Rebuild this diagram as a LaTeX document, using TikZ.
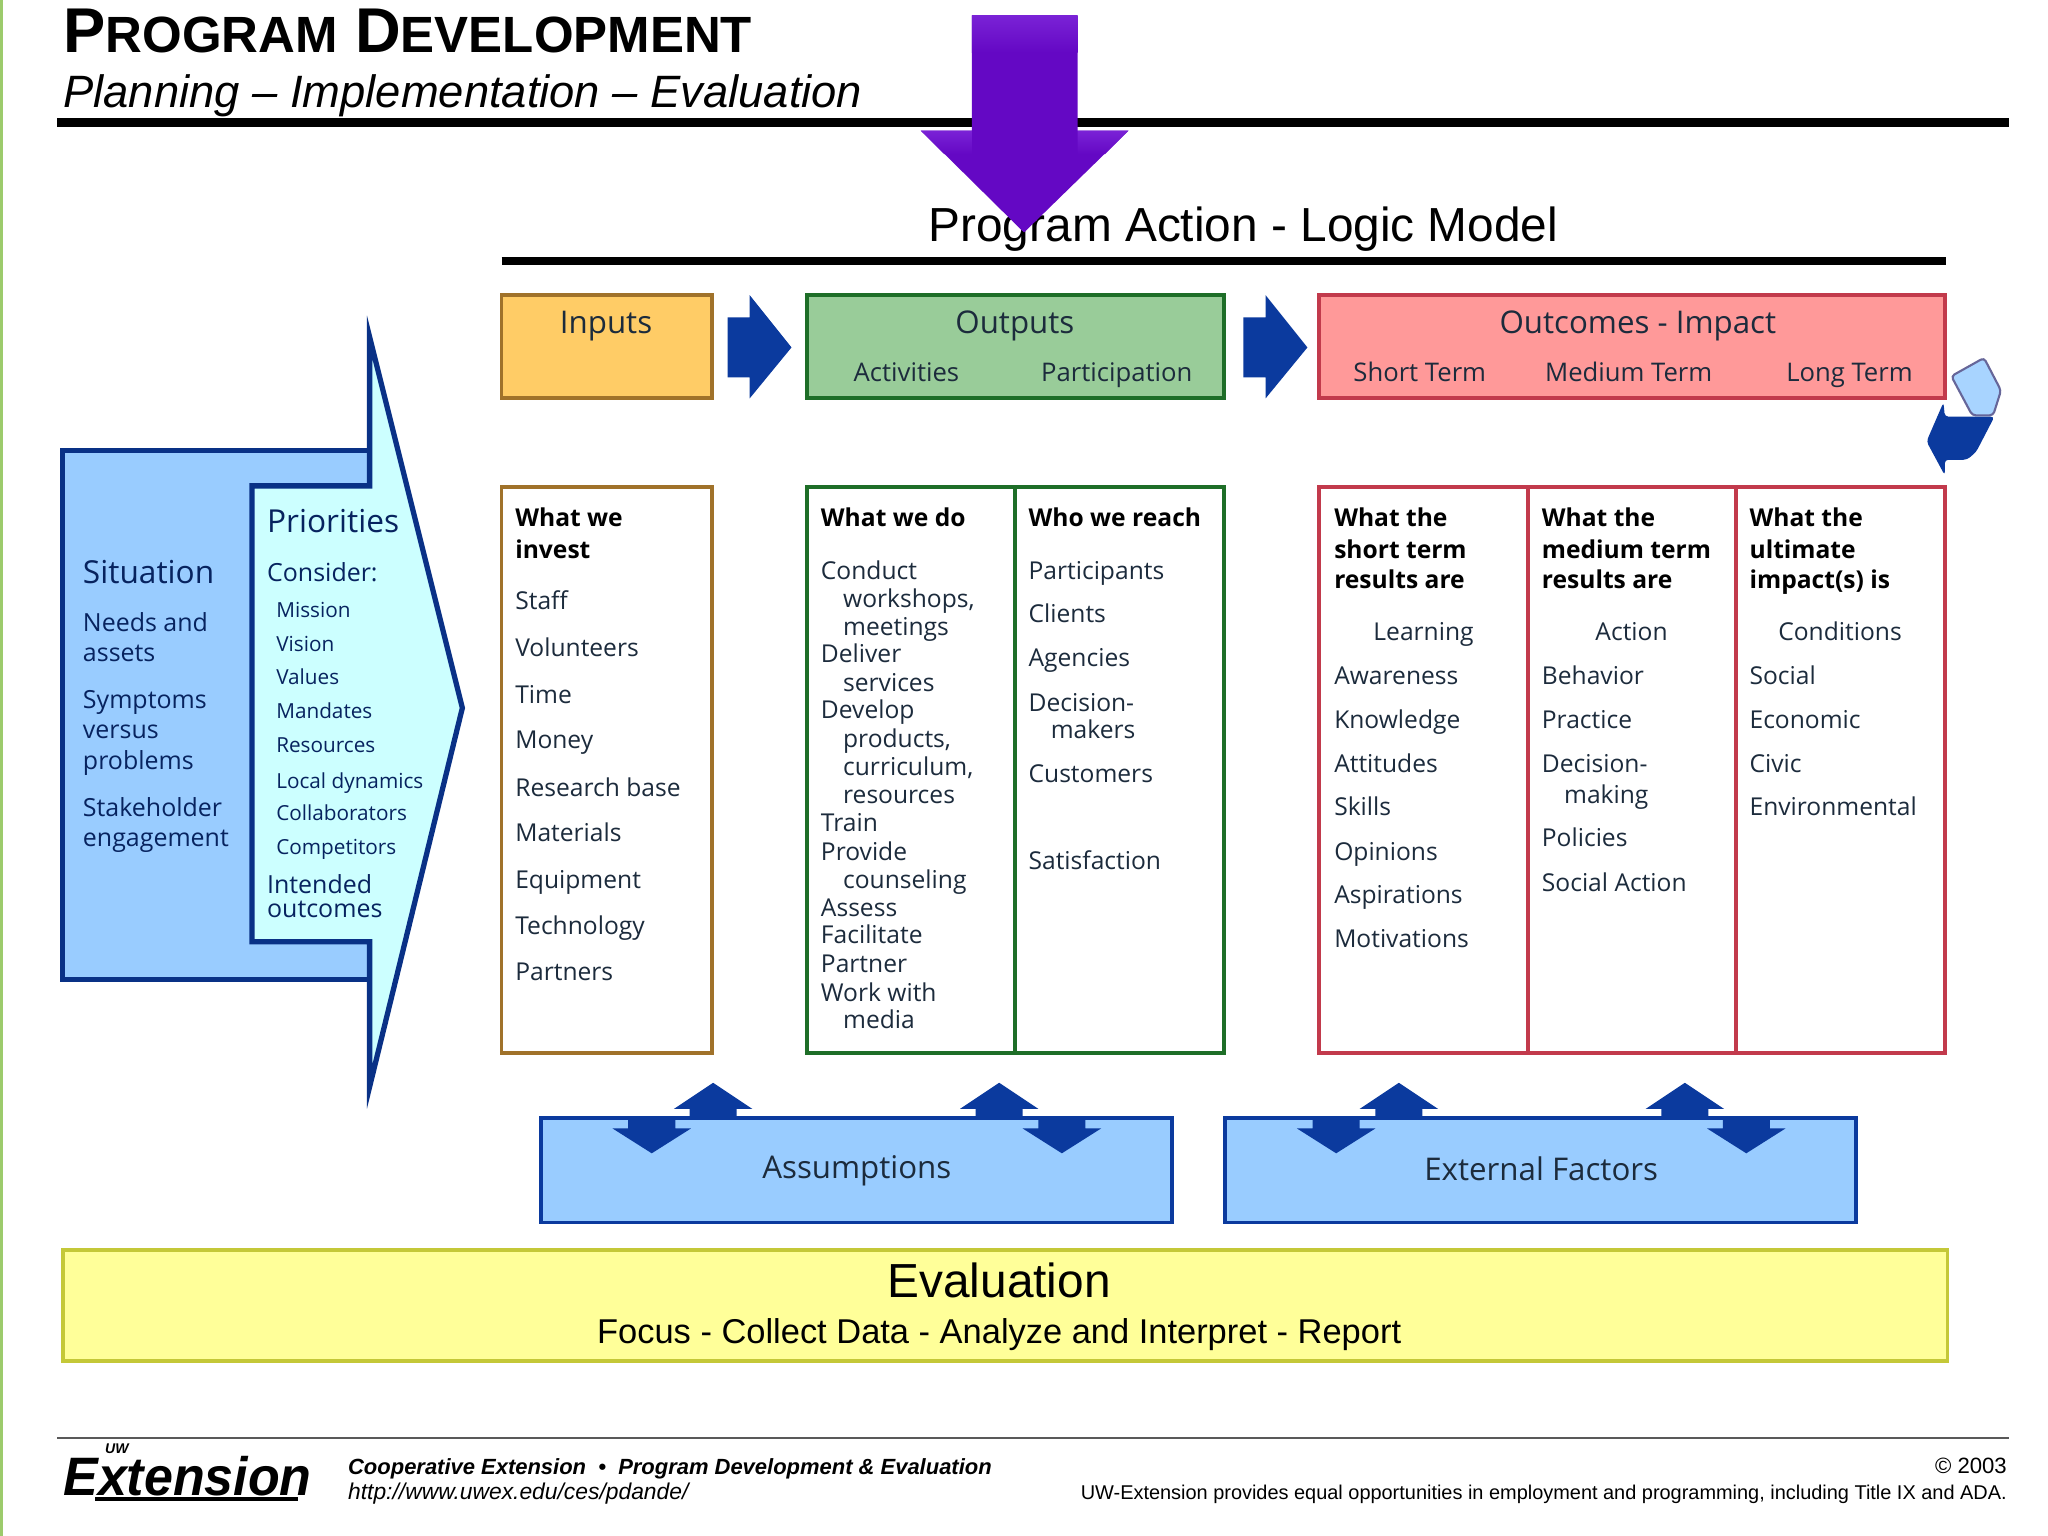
\documentclass[tikz,border=0pt]{standalone}
\usepackage{fontspec}
\setmainfont{Liberation Sans}
\newfontfamily\boxfont{Open Sans}
\usepackage{xcolor}
\usetikzlibrary{arrows.meta, positioning}

\definecolor{navyblue}{HTML}{0B3A9E}
\definecolor{boxblue}{HTML}{99CCFF}
\definecolor{paleblue}{HTML}{CCFFFF}
\definecolor{inputfill}{HTML}{FFCC66}
\definecolor{inputline}{HTML}{A0722A}
\definecolor{outputfill}{HTML}{99CC99}
\definecolor{outputline}{HTML}{1E6E28}
\definecolor{outcomefill}{HTML}{FF9999}
\definecolor{outcomeline}{HTML}{C23A4C}
\definecolor{evalfill}{HTML}{FFFF99}
\definecolor{evalline}{HTML}{C4C838}
\definecolor{inktext}{HTML}{1C2B3C}
\definecolor{violettop}{HTML}{7A22D6}
\definecolor{violetlow}{HTML}{6408C4}
\definecolor{stripgreen}{HTML}{9CCB6C}

\tikzset{
    headtext/.style={inner sep=0pt, font=\boxfont\fontsize{8.9}{11}\selectfont, text=inktext, text height=1.5ex, text depth=.3ex},
    subtext/.style={inner sep=0pt, yshift=0.3pt, font=\boxfont\fontsize{7.3}{9}\selectfont, text=inktext, text height=1.5ex, text depth=.3ex},
    item/.style={anchor=west, inner sep=0pt, yshift=0.4pt, font=\boxfont\fontsize{7}{9}\selectfont, text=inktext, text height=1.5ex, text depth=.3ex},
    boldrow/.style={item, font=\boxfont\bfseries\fontsize{7}{9}\selectfont, text=black},
    tinyrow/.style={item, font=\boxfont\fontsize{5.9}{7}\selectfont, text=navyblue!60!black},
    bluerow/.style={item, font=\boxfont\fontsize{7.1}{9}\selectfont, text=navyblue!60!black},
    blockarrow/.style={fill=navyblue},
}

\begin{document}
\begin{tikzpicture}[x=0.013061cm, y=-0.013061cm]
    \useasboundingbox (0,0) rectangle (1568,1176);
    \fill[white] (0,0) rectangle (1568,1176);
    \fill[stripgreen] (0,0) rectangle (2.5,1176);

    % ==========================================
    % Title
    % ==========================================
    \node[anchor=base west, inner sep=0pt, font=\bfseries\fontsize{18}{20}\selectfont] (title) at (48,40)
        {P{\fontsize{14.5}{16}\selectfont ROGRAM} D{\fontsize{14.5}{16}\selectfont EVELOPMENT}};
    \node[anchor=base west, inner sep=0pt, font=\itshape\fontsize{12.9}{16}\selectfont] (subtitle) at (48,82)
        {Planning -- Implementation -- Evaluation};
    \draw[line width=2.5pt] (44,93.5) -- (1538,93.5);

    \node[anchor=base, inner sep=0pt, font=\fontsize{13.6}{16}\selectfont] (model) at (952,185) {Program Action - Logic Model};
    \draw[line width=2.2pt] (384,200) -- (1490,200);

    % ==========================================
    % Arrow over the heading
    % ==========================================
    \fill[violetlow] (744,12) -- (825,12) -- (825,100) -- (864,100) -- (784,178) -- (705,100) -- (744,100) -- cycle;
    \shade[top color=violettop, bottom color=violetlow] (744,12) rectangle (825,40);
    \shade[top color=violettop, bottom color=violetlow] (705,100) -- (744,100) -- (744,118) -- (723,118) -- cycle;
    \shade[top color=violettop, bottom color=violetlow] (825,100) -- (864,100) -- (846,118) -- (825,118) -- cycle;

    % ==========================================
    % Top row
    % ==========================================
    \draw[fill=inputfill, draw=inputline, line width=1.1pt] (384,226) rectangle (545,305);
    \node[headtext] (inputs) at (464,247) {Inputs};

    \draw[fill=outputfill, draw=outputline, line width=1.1pt] (618,226) rectangle (937,305);
    \node[headtext] (outputs) at (777,247) {Outputs};
    \node[subtext] (activities) at (694,284) {Activities};
    \node[subtext] (participation) at (855,284) {Participation};

    \draw[fill=outcomefill, draw=outcomeline, line width=1.1pt] (1010,226) rectangle (1489,305);
    \node[headtext] (outcomes) at (1254,247) {Outcomes - Impact};
    \node[subtext] (shortterm) at (1087,284) {Short Term};
    \node[subtext] (mediumterm) at (1247,284) {Medium Term};
    \node[subtext] (longterm) at (1416,284) {Long Term};

    % block arrows between the boxes
    \foreach \x in {557,952}
        \fill[blockarrow] (\x,243) -- ++(17,0) -- ++(0,-17) -- ++(32,40) -- ++(-32,39) -- ++(0,-16) -- ++(-17,0) -- cycle;

    % bent arrow at the right
    \draw[fill=boxblue!85!white, draw=gray!80!blue, line width=0.6pt, rounded corners=1pt]
        (1494,288) -- (1519,274) -- (1532,299) -- (1526,318) -- (1510,318) -- cycle;
    \fill[blockarrow, rounded corners=1pt] (1527,319) -- (1489,319) -- (1488,308) -- (1475,338) -- (1489,364) -- (1489,352) -- (1506,352) -- (1513,346) -- cycle;

    % ==========================================
    % Lower boxes
    % ==========================================
    \draw[draw=inputline, line width=1.1pt] (384,373) rectangle (545,806);
    \draw[draw=outputline, line width=1.1pt] (618,373) rectangle (937,806);
    \draw[draw=outputline, line width=1.1pt] (777,373) -- (777,806);
    \draw[draw=outcomeline, line width=1.1pt] (1010,373) rectangle (1489,806);
    \draw[draw=outcomeline, line width=1.1pt] (1170,373) -- (1170,806);
    \draw[draw=outcomeline, line width=1.1pt] (1329,373) -- (1329,806);

    % inputs column
    \foreach \y/\t [count=\i] in {396/What we, 420/invest}
        \node[boldrow] (invhead\i) at (394,\y) {\t};
    \foreach \y/\t [count=\i] in {459/Staff, 495/Volunteers, 531/Time, 566/Money, 602/Research base,
            637/Materials, 673/Equipment, 708/Technology, 743/Partners}
        \node[item] (inv\i) at (394,\y) {\t};

    % outputs columns
    \node[boldrow] (dohead) at (628,396) {What we do};
    \foreach \x/\y/\t [count=\i] in {628/436/Conduct, 645/458/{workshops,}, 645/479/meetings, 628/500/Deliver,
            645/522/services, 628/543/Develop, 645/565/{products,}, 645/586/{curriculum,}, 645/608/resources,
            628/629/Train, 628/651/Provide, 645/673/counseling, 628/694/Assess, 628/715/Facilitate,
            628/737/Partner, 628/759/Work with, 645/780/media}
        \node[item] (do\i) at (\x,\y) {\t};
    \node[boldrow] (reachhead) at (787,396) {Who we reach};
    \foreach \x/\y/\t [count=\i] in {787/436/Participants, 787/469/Clients, 787/503/Agencies, 787/537/Decision-,
            804/558/makers, 787/592/Customers, 787/658/Satisfaction}
        \node[item] (reach\i) at (\x,\y) {\t};

    % outcomes columns
    \foreach \y/\t [count=\i] in {396/What the, 420/short term, 443/results are}
        \node[boldrow] (shorthead\i) at (1021,\y) {\t};
    \foreach \x/\y/\t [count=\i] in {1051/483/Learning, 1021/517/Awareness, 1021/550/Knowledge, 1021/584/Attitudes,
            1021/617/Skills, 1021/651/Opinions, 1021/684/Aspirations, 1021/718/Motivations}
        \node[item] (short\i) at (\x,\y) {\t};

    \foreach \y/\t [count=\i] in {396/What the, 420/medium term, 443/results are}
        \node[boldrow] (medhead\i) at (1180,\y) {\t};
    \foreach \x/\y/\t [count=\i] in {1221/483/Action, 1180/517/Behavior, 1180/550/Practice, 1180/584/Decision-,
            1197/608/making, 1180/641/Policies, 1180/675/Social Action}
        \node[item] (med\i) at (\x,\y) {\t};

    \foreach \y/\t [count=\i] in {396/What the, 420/ultimate, 443/impact(s) is}
        \node[boldrow] (longhead\i) at (1339,\y) {\t};
    \foreach \x/\y/\t [count=\i] in {1361/483/Conditions, 1339/517/Social, 1339/550/Economic, 1339/584/Civic,
            1339/617/Environmental}
        \node[item] (long\i) at (\x,\y) {\t};

    % ==========================================
    % Situation and priorities
    % ==========================================
    \draw[fill=boxblue, draw=navyblue!85!black, line width=1.3pt] (48,345) rectangle (283,750);
    \draw[fill=paleblue, draw=navyblue!85!black, line width=1.5pt, line join=miter]
        (193,372) -- (283,372) -- (283,258) -- (354,542) -- (283,832) -- (283,721) -- (193,721) -- cycle;

    \node[item, font=\boxfont\fontsize{9}{11}\selectfont, text=navyblue!60!black] (situation) at (63,439) {Situation};
    \foreach \y/\t [count=\i] in {476/Needs and, 499/assets, 535/Symptoms, 558/versus, 582/problems,
            618/Stakeholder, 641/engagement}
        \node[bluerow] (sit\i) at (63,\y) {\t};
    \node[item, font=\boxfont\fontsize{9}{11}\selectfont, text=navyblue!60!black] (priorities) at (204,400) {Priorities};
    \node[bluerow] (consider) at (204,438) {Consider:};
    \foreach \y/\t [count=\i] in {465/Mission, 491/Vision, 517/Values, 543/Mandates, 569/Resources,
            596/Local dynamics, 621/Collaborators, 647/Competitors}
        \node[tinyrow] (pri\i) at (211,\y) {\t};
    \node[bluerow] (intended) at (204,677) {Intended};
    \node[bluerow] (intended2) at (204,695) {outcomes};

    % ==========================================
    % Assumptions and external factors
    % ==========================================
    \foreach \x in {414,938}
        \draw[fill=boxblue, draw=navyblue, line width=1.1pt] (\x,856) rectangle ++(483,80);
    \node[headtext] (assumptions) at (656,894) {Assumptions};
    \node[headtext] (external) at (1180,895) {External Factors};

    \foreach \x in {546,765,1071,1290}
        \fill[blockarrow] (\x,829) -- ++(30,20) -- ++(-12,0) -- ++(0,8) -- ++(-36,0) -- ++(0,-8) -- ++(-12,0) -- cycle;
    \foreach \x in {499,813,1023,1337}
        \fill[blockarrow] (\x,883) -- ++(30,-19) -- ++(-12,0) -- ++(0,-9) -- ++(-36,0) -- ++(0,9) -- ++(-12,0) -- cycle;

    % ==========================================
    % Evaluation
    % ==========================================
    \draw[fill=evalfill, draw=evalline, line width=1.1pt] (48,957) rectangle (1491,1042);
    \node[inner sep=0pt, font=\fontsize{13.6}{16}\selectfont] (evaluation) at (765,980) {Evaluation};
    \node[inner sep=0pt, font=\fontsize{9.8}{12}\selectfont] (steps) at (765,1022) {Focus - Collect Data - Analyze and Interpret - Report};

    % ==========================================
    % Footer
    % ==========================================
    \draw[draw=black!65, line width=0.7pt] (44,1101) -- (1538,1101);
    \node[anchor=base west, inner sep=0pt, font=\bfseries\itshape\fontsize{15.4}{18}\selectfont, xscale=0.96] (logo) at (48,1145) {Extension};
    \node[anchor=base west, inner sep=0pt, font=\bfseries\itshape\fontsize{4}{5}\selectfont] (uw) at (80,1113) {UW};
    \fill (73,1146) rectangle (228,1149);
    \node[anchor=base west, inner sep=0pt, font=\bfseries\itshape\fontsize{6.25}{7}\selectfont] (coop) at (266,1129)
        {Cooperative Extension\ \ \textbullet\ \ Program Development \& Evaluation};
    \node[anchor=base west, inner sep=0pt, font=\itshape\fontsize{6.5}{7}\selectfont] (url) at (266,1148) {http://www.uwex.edu/ces/pdande/};
    \node[anchor=base east, inner sep=0pt, font=\fontsize{6.3}{7}\selectfont] (year) at (1537,1128) {\textcopyright\ 2003};
    \node[anchor=base east, inner sep=0pt, font=\fontsize{5.67}{7}\selectfont] (notice) at (1537,1148)
        {UW-Extension provides equal opportunities in employment and programming, including Title IX and ADA.};
\end{tikzpicture}
\end{document}
